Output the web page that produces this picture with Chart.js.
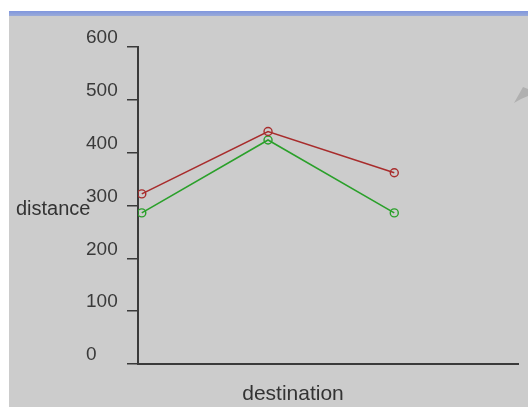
<!DOCTYPE html>
<html>
<head>
<meta charset="utf-8">
<script src="https://cdn.jsdelivr.net/npm/chart.js@4"></script>
<style>
  html, body { margin: 0; padding: 0; background: #fff; }
  #wrap { width: 528px; height: 407px; position: relative; }
</style>
</head>
<body>
<div id="wrap"><canvas id="chart"></canvas></div>
<script>
// destinations along the x axis (no tick labels shown in the original)
const destinations = ["A", "B", "C"];
const redSeries = [322, 440, 362];
const greenSeries = [286, 424, 286];
const yTicks = [0, 100, 200, 300, 400, 500, 600];

const xTitle = "destination";
const yTitle = "distance";

const toPoints = (vals) => vals.map((v, i) => ({ x: i, y: v }));

// background, header band and axis titles (titles are horizontal in the original)
const frame = {
  id: "frame",
  beforeDraw(chart) {
    const { ctx, width, height } = chart;
    ctx.save();
    ctx.fillStyle = "#ffffff";
    ctx.fillRect(0, 0, width, height);
    ctx.fillStyle = "#cccccc";
    ctx.fillRect(9, 16, width - 9, height - 16);
    const grad = ctx.createLinearGradient(0, 11, 0, 16);
    grad.addColorStop(0, "#7f96de");
    grad.addColorStop(1, "#9aaad8");
    ctx.fillStyle = grad;
    ctx.fillRect(9, 11, width - 9, 5);
    // little grey arrow head at the right edge
    ctx.fillStyle = "#b0b0b0";
    ctx.beginPath();
    ctx.moveTo(514, 103);
    ctx.lineTo(523, 87);
    ctx.lineTo(528, 89);
    ctx.lineTo(528, 96);
    ctx.lineTo(521, 99);
    ctx.closePath();
    ctx.fill();
    ctx.restore();
  },
  afterDraw(chart) {
    const { ctx } = chart;
    ctx.save();
    ctx.fillStyle = "#333333";
    ctx.font = "20px 'Liberation Sans', Arial, sans-serif";
    ctx.textBaseline = "middle";
    ctx.textAlign = "left";
    ctx.fillText(yTitle, 16, 209);
    ctx.font = "21px 'Liberation Sans', Arial, sans-serif";
    ctx.textAlign = "center";
    ctx.fillText(xTitle, 293, 394);
    ctx.restore();
  }
};

new Chart(document.getElementById("chart"), {
  type: "line",
  data: {
    labels: destinations,
    datasets: [
      {
        label: "red",
        data: toPoints(redSeries),
        borderColor: "#a82c2c",
        borderWidth: 1.6,
        pointStyle: "circle",
        pointRadius: 4,
        pointBorderWidth: 1.4,
        pointBackgroundColor: "rgba(0,0,0,0)",
        pointBorderColor: "#a82c2c",
        tension: 0
      },
      {
        label: "green",
        data: toPoints(greenSeries),
        borderColor: "#2aa02a",
        borderWidth: 1.6,
        pointStyle: "circle",
        pointRadius: 4,
        pointBorderWidth: 1.4,
        pointBackgroundColor: "rgba(0,0,0,0)",
        pointBorderColor: "#2aa02a",
        tension: 0
      }
    ]
  },
  options: {
    responsive: true,
    maintainAspectRatio: false,
    animation: false,
    layout: { padding: { left: 86, top: 47, right: 10, bottom: 43 } },
    plugins: {
      legend: { display: false },
      tooltip: { enabled: false }
    },
    scales: {
      x: {
        type: "linear",
        min: -0.03,
        max: 2.98,
        ticks: { display: false },
        grid: { display: false },
        border: { display: true, color: "#3a3a3a", width: 2 },
        afterFit: (s) => { s.height = 0; }
      },
      y: {
        min: 0,
        max: 600,
        afterBuildTicks: (s) => { s.ticks = yTicks.map(v => ({ value: v })); },
        ticks: {
          color: "#3a3a3a",
          font: { family: "'Liberation Sans', Arial, sans-serif", size: 19 },
          padding: 7,
          labelOffset: -9,
          crossAlign: "far"
        },
        grid: {
          drawOnChartArea: false,
          drawTicks: true,
          tickLength: 11,
          color: "#3a3a3a",
          lineWidth: 1.5
        },
        border: { display: true, color: "#3a3a3a", width: 2 },
        afterFit: (s) => { s.width = 52; }
      }
    }
  },
  plugins: [frame]
});
</script>
</body>
</html>
